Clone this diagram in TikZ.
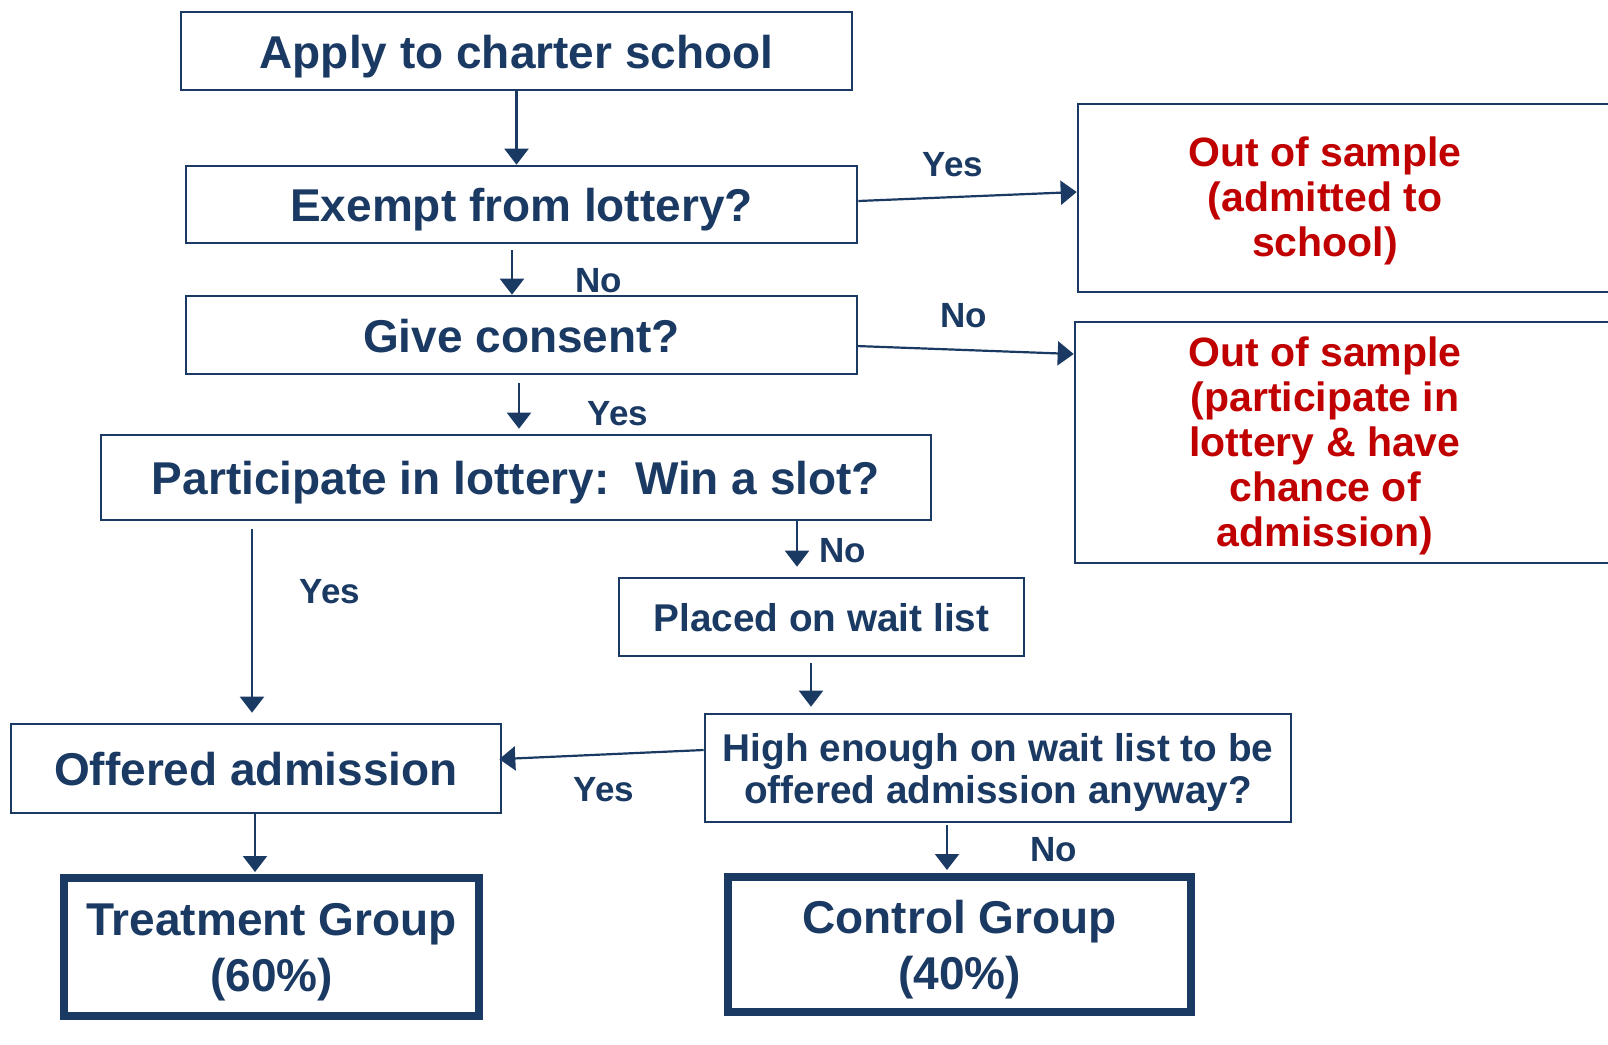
\documentclass[tikz,border=0pt]{standalone}
\usepackage{fontspec}
\setmainfont{Liberation Sans}
\usepackage{tikz}
\usetikzlibrary{arrows.meta}
\definecolor{navy}{HTML}{1B3A63}
\definecolor{darkred}{HTML}{C00000}

\begin{document}
\begin{tikzpicture}[x=1pt,y=-1pt,font=\bfseries]
    \tikzstyle{box}=[draw=navy,line width=2.6pt,inner sep=0pt,text=navy,align=center]
    \tikzstyle{thick box}=[box,line width=8pt,text depth=0pt]
    \tikzstyle{big}=[font=\fontsize{46}{56}\selectfont\bfseries,text height=34pt,text depth=0pt]
    \tikzstyle{mid}=[font=\fontsize{38.7}{42}\selectfont\bfseries,text depth=0pt]
    \tikzstyle{outtext}=[text=darkred,align=center,inner sep=0pt,text depth=0pt,
        font=\fontsize{41}{45}\selectfont\bfseries]
    \tikzstyle{answer}=[text=navy,inner sep=0pt,font=\fontsize{35}{40}\selectfont\bfseries]
    \tikzstyle{arrow}=[draw=navy,line width=2.2pt,-{Triangle[length=16pt,width=24pt]}]

    \useasboundingbox (0,0) rectangle (1608,1044);
    \clip (0,0) rectangle (1608,1044);

    % main column
    \node[box,big,minimum width=671pt,minimum height=78pt](apply) at (516.5,51) {Apply to charter school};
    \node[box,big,minimum width=671pt,minimum height=77pt](exempt) at (521.5,204.5) {Exempt from lottery?};
    \node[box,big,minimum width=671pt,minimum height=78pt](consent) at (521.5,335) {Give consent?};
    \node[box,big,minimum width=830pt,minimum height=85pt](lottery) at (516,477.5) {Participate in lottery:\ \ Win a slot?};
    \node[box,mid,text height=28pt,minimum width=405pt,minimum height=78pt](wait) at (821.5,617) {Placed on wait list};
    \node[box,mid,minimum width=586pt,minimum height=108pt](high) at (998,768)
        {High enough on wait list to be\\offered admission anyway?};
    \node[box,big,minimum width=490pt,minimum height=89pt](offered) at (256,768.5) {Offered admission};

    % groups
    \node[thick box,font=\fontsize{46}{56}\selectfont\bfseries,minimum width=415pt,minimum height=138pt](treat) at (271.5,947)
        {Treatment Group\\(60\%)};
    \node[thick box,font=\fontsize{46}{56}\selectfont\bfseries,minimum width=463pt,minimum height=135pt](control) at (959.5,944.5)
        {Control Group\\(40\%)};

    % out of sample
    \node[box,minimum width=572pt,minimum height=188pt](outA) at (1364,198) {};
    \node[outtext](outAtext) at (1325,197) {Out of sample\\(admitted to\\school)};
    \node[box,minimum width=575pt,minimum height=241pt](outB) at (1362.5,442.5) {};
    \node[outtext](outBtext) at (1325,442) {Out of sample\\(participate in\\lottery \& have\\chance of\\admission)};

    % arrows
    \draw[arrow] (apply.south) -- (apply.south |- exempt.north);
    \draw[arrow,shorten <=6pt] ([xshift=-9.5pt]exempt.south) -- ([xshift=-9.5pt]exempt.south |- consent.north);
    \draw[arrow,shorten <=8pt,shorten >=5pt] ([xshift=-2.5pt]consent.south) -- ([xshift=-2.5pt]consent.south |- lottery.north);
    \draw[arrow] ([yshift=3.5pt]exempt.east) -- ([yshift=6pt]outA.west);
    \draw[arrow] ([xshift=-2pt,yshift=-11pt]consent.east) -- ([yshift=88.5pt]outB.west);
    \draw[arrow,shorten <=8pt,shorten >=10pt] ([xshift=-4pt]lottery.south -| offered.north) -- ([xshift=-4pt]offered.north);
    \draw[arrow,shorten >=10pt] ([xshift=-24.5pt]lottery.south -| wait.north) -- ([xshift=-24.5pt]wait.north);
    \draw[arrow,shorten <=6pt,shorten >=6pt] ([xshift=-10.5pt]wait.south) -- ([xshift=-10.5pt]wait.south |- high.north);
    \draw[arrow,shorten >=-3pt] ([yshift=18pt]high.west) -- ([yshift=9.5pt]offered.east);
    \draw[arrow,shorten >=2pt] ([xshift=-1pt]offered.south) -- ([xshift=-1pt]offered.south |- treat.north);
    \draw[arrow,shorten <=2pt,shorten >=3pt] ([xshift=-51pt]high.south) -- ([xshift=-51pt]high.south |- control.north);

    % answers
    \node[answer](yesA) at (953,165) {Yes};
    \node[answer](noA) at (599,281) {No};
    \node[answer](noB) at (964,316) {No};
    \node[answer](yesB) at (618,414) {Yes};
    \node[answer](yesC) at (330,592) {Yes};
    \node[answer](noC) at (843,551) {No};
    \node[answer](yesD) at (604,790) {Yes};
    \node[answer](noD) at (1054,850) {No};
\end{tikzpicture}
\end{document}
